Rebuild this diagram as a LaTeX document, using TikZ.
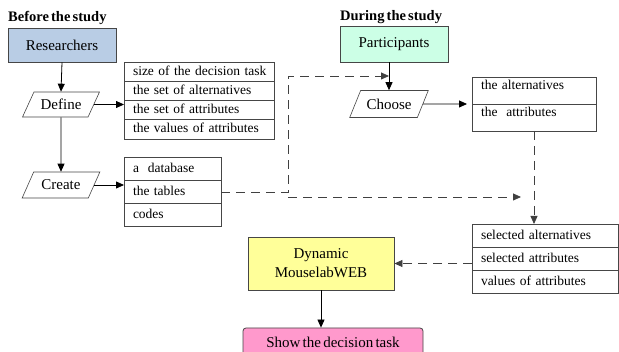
\documentclass[tikz,border=0pt]{standalone}
\usepackage{fontspec}
\setmainfont{Liberation Serif}[WordSpace=0.6]
\usetikzlibrary{arrows.meta,positioning,shapes.geometric}
\definecolor{resblue}{RGB}{185,205,229}
\definecolor{partgreen}{RGB}{204,255,230}
\definecolor{webyellow}{RGB}{255,255,153}
\definecolor{showpink}{RGB}{255,153,204}
\definecolor{edgegray}{RGB}{70,70,70}
\tikzset{
  heading/.style={anchor=west, inner sep=0pt, font=\fontsize{14.5}{16}\selectfont\bfseries},
  actorbox/.style={rectangle, draw=edgegray, line width=0.8pt, align=center, font=\fontsize{15}{19}\selectfont},
  stepbox/.style={trapezium, trapezium left angle=60, trapezium right angle=120, trapezium stretches=true, draw=edgegray, line width=0.6pt, fill=white, font=\fontsize{15}{17}\selectfont},
  cell/.style={rectangle, draw=edgegray, line width=0.8pt, anchor=north west, outer sep=0pt, align=left, inner xsep=9pt, inner ysep=0pt, text height=10pt, text depth=3pt, font=\fontsize{13.5}{16}\selectfont},
  arrow/.style={-{Triangle[length=8pt,width=7pt]}, line width=0.8pt, draw=black},
  dasharrow/.style={arrow, dash pattern=on 9pt off 6pt, draw=black!75}
}
\begin{document}
\begin{tikzpicture}[x=1pt,y=-1pt]
\useasboundingbox (0,0) rectangle (619,352);
% headings
\node[heading] (hbefore) at (8,18) {Before the study};
\node[heading] (hduring) at (340,17) {During the study};

% before the study
\node[actorbox, fill=resblue, minimum width=108pt, minimum height=34pt] (res) at (62,45) {Researchers};
\node[stepbox, minimum width=77pt, minimum height=25pt] (def) at (61,104.5) {Define};
\node[stepbox, minimum width=78pt, minimum height=26pt] (cre) at (61,185) {Create};

\node[cell, text width=132pt, minimum height=19.25pt] (t1a) at (124,62) {\mbox{size of the decision task}};
\node[cell, text width=132pt, minimum height=19.25pt, below=0pt of t1a] (t1b) {the set of alternatives};
\node[cell, text width=132pt, minimum height=19.25pt, below=0pt of t1b] (t1c) {the set of attributes};
\node[cell, text width=132pt, minimum height=19.25pt, below=0pt of t1c] (t1d) {\mbox{the values of attributes}};

\node[cell, text width=79pt, minimum height=23.3pt] (t2a) at (124,157) {a\ \ database};
\node[cell, text width=79pt, minimum height=23.3pt, below=0pt of t2a] (t2b) {the tables};
\node[cell, text width=79pt, minimum height=23.3pt, below=0pt of t2b] (t2c) {codes};

% during the study
\node[actorbox, fill=partgreen, minimum width=108pt, minimum height=36pt] (par) at (394,44) {Participants};
\node[stepbox, minimum width=79pt, minimum height=27pt] (cho) at (389,104) {Choose};

\node[cell, text width=106pt, minimum height=27pt, text depth=12pt] (t3a) at (472,77) {the alternatives};
\node[cell, text width=106pt, minimum height=27pt, text depth=12pt, below=0pt of t3a] (t3b) {the\ \ attributes};

\node[cell, text width=128pt, minimum height=23.3pt] (t4a) at (472,224) {selected alternatives};
\node[cell, text width=128pt, minimum height=23.3pt, below=0pt of t4a] (t4b) {selected attributes};
\node[cell, text width=128pt, minimum height=23.3pt, below=0pt of t4b] (t4c) {values of attributes};

\node[actorbox, fill=webyellow, minimum width=146pt, minimum height=53pt] (dyn) at (321,263.5) {Dynamic\\MouselabWEB};
\node[actorbox, fill=showpink, rounded corners=3pt, minimum width=180pt, minimum height=28pt] (show) at (333,342) {Show the decision task};

% solid arrows
\draw[arrow] (res.south) -- (def.north);
\draw[arrow] (def.east) -- (def.east -| t1a.west);
\draw[arrow] (def.south) -- (cre.north);
\draw[arrow] (cre.east) -- (cre.east -| t2a.west);
\draw[arrow] (par.south -| cho.north) -- (cho.north);
\draw[arrow] (cho.east) -- ([xshift=-5pt]t3a.south west);
\draw[arrow] (dyn.south) -- (dyn.south |- show.north);

% dashed arrows
\coordinate (jup) at (288,76);
\coordinate (jlow) at (288,197);
\coordinate (tosel) at (521,197);
\draw[dasharrow] (t2b.east) -- (t2b.east -| jup) -- (jup) -- (jup -| cho.north);
\draw[dasharrow] (jlow) -- (tosel);
\draw[dasharrow] (t3b.south) -- (t3b.south |- t4a.north);
\draw[dasharrow] (dyn.east -| t4b.west) -- (dyn.east);
\end{tikzpicture}
\end{document}
